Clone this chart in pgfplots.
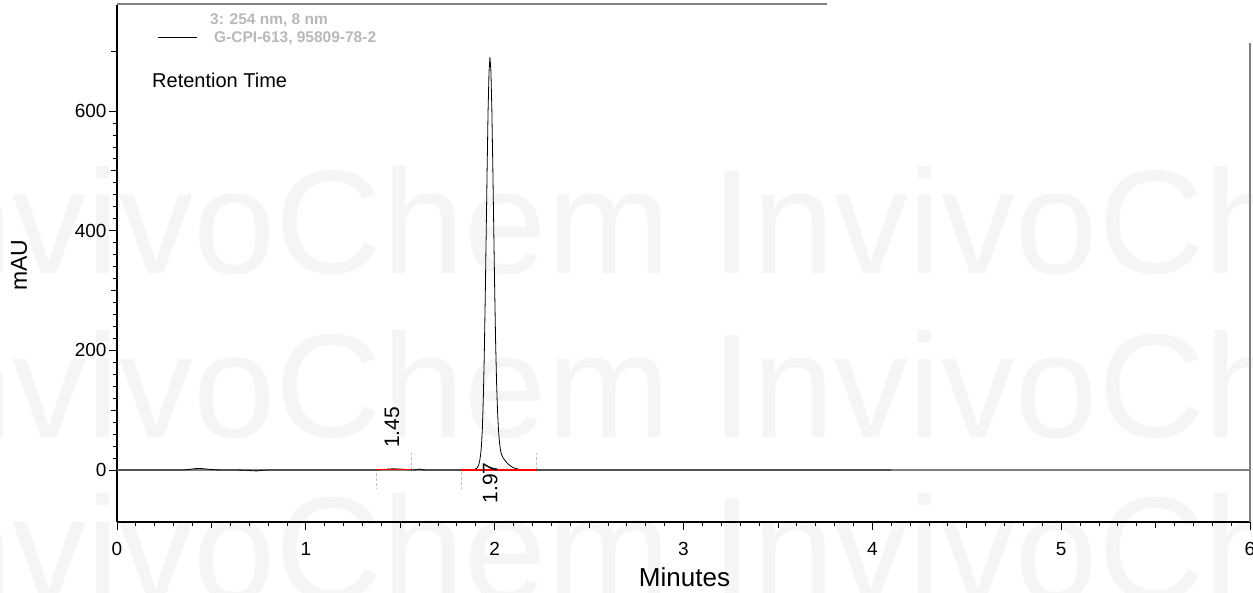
\documentclass[border=0pt]{standalone}
\usepackage{fontspec}
\setmainfont{Liberation Sans}
\usepackage{pgfplots}
\pgfplotsset{compat=1.18}
\newcommand\tickfont{\fontsize{19}{21}\selectfont}
\begin{document}
\begin{tikzpicture}
% watermark
\foreach \yy in {248,84.3,-79} {
  \node[anchor=base west, inner sep=0pt, text=black!4, font=\fontsize{148}{150}\selectfont] at (-228pt,\yy pt) {InvivoChem InvivoChem};
}
\begin{axis}[
  at={(0pt,0pt)}, anchor=south west,
  scale only axis, width=1133pt, height=517pt,
  xmin=0, xmax=6, ymin=-86.9, ymax=777.2,
  axis lines*=left,
  axis line style={black, line width=1.2pt},
  tick align=outside,
  xtick={0,1,2,3,4,5,6}, ytick={0,200,400,600},
  minor x tick num=9, minor y tick num=9,
  major tick length=8pt, minor tick length=4pt,
  tick style={black, line width=0.8pt},
  extra x ticks={0.5,1.5,2.5,3.5,4.5,5.5}, extra x tick labels={},
  extra x tick style={major tick length=6pt},
  extra y ticks={100,300,500,700}, extra y tick labels={},
  extra y tick style={major tick length=6pt},
  xticklabel style={font=\tickfont, yshift=-9pt},
  yticklabel style={font=\tickfont, xshift=1pt},
  /pgf/number format/assume math mode=true,
]
% baseline
\addplot[black!50, line width=1.5pt] coordinates {(0,0) (6,0)};
% peak delimiters
\addplot[black!25, densely dashed, line width=0.7pt] coordinates {(1.372,-5) (1.372,-32)};
\addplot[black!25, densely dashed, line width=0.7pt] coordinates {(1.5596,0) (1.5596,28)};
\addplot[black!25, densely dashed, line width=0.7pt] coordinates {(1.822,-3) (1.822,-32)};
\addplot[black!25, densely dashed, line width=0.7pt] coordinates {(2.223,0) (2.223,28)};
% chromatogram
\addplot[black, line width=0.8pt] coordinates {
(0,0) (0.35,0) (0.38,0.8) (0.41,2.2) (0.44,2.5) (0.47,1.8) (0.50,0.8) (0.53,0.2)
(0.60,0) (0.68,-0.3) (0.71,-1.2) (0.74,-1.5) (0.77,-0.6) (0.80,0)
(1.38,0) (1.42,1.2) (1.46,2.0) (1.50,1.6) (1.54,0.6) (1.57,0)
(1.59,1.2) (1.605,1.5) (1.62,0.3) (1.64,0)
(1.87,0) (1.885,0.5) (1.895,1.2) (1.905,3) (1.91,5) (1.915,8) (1.92,14)
(1.925,24) (1.93,40) (1.935,70) (1.94,120) (1.945,192) (1.95,285)
(1.955,392) (1.96,500) (1.965,598) (1.97,664) (1.975,690) (1.98,668)
(1.985,605) (1.99,512) (1.995,408) (2.0,305) (2.005,215) (2.01,148)
(2.015,100) (2.02,68) (2.025,48) (2.03,35) (2.035,27) (2.045,20)
(2.055,16) (2.065,12) (2.075,9) (2.085,6.5) (2.095,4.5) (2.105,3.2)
(2.115,2.2) (2.125,1.4) (2.135,0.8) (2.155,0.3) (2.175,0) (4.1,0)
};
% integration baselines
\addplot[red, line width=1.4pt] coordinates {(1.372,0.4) (1.56,0.4)};
\addplot[red, line width=1.4pt] coordinates {(1.822,0) (2.223,0)};
\node[rotate=90, font=\fontsize{21}{22}\selectfont] at (axis cs:1.457,71) {1.45};
\node[rotate=90, font=\fontsize{21}{22}\selectfont] at (axis cs:1.976,-21.7) {1.97};
\end{axis}
% partial frame
\draw[black!50, line width=2pt] (0pt,517.5pt) -- (710pt,517.5pt);
\draw[black!50, line width=2pt] (1133pt,0pt) -- (1133pt,479pt);
% legend and labels
\draw[black, line width=0.8pt] (41pt,484.3pt) -- (80pt,484.3pt);
\node[anchor=base west, inner sep=0pt, text=black!28, font=\fontsize{15.5}{17}\selectfont\bfseries] at (93pt,497pt) {3: 254 nm, 8 nm};
\node[anchor=base west, inner sep=0pt, text=black!28, font=\fontsize{15.5}{17}\selectfont\bfseries] at (97pt,479.3pt) {G-CPI-613, 95809-78-2};
\node[anchor=base west, inner sep=0pt, font=\fontsize{20}{22}\selectfont] at (35pt,434.7pt) {Retention Time};
\node[rotate=90, inner sep=0pt, font=\fontsize{23}{25}\selectfont] at (-98pt,257pt) {mAU};
\node[anchor=base, inner sep=0pt, font=\fontsize{26}{28}\selectfont] at (567.5pt,-64.7pt) {Minutes};
\pgfresetboundingbox
\path[use as bounding box] (-117pt,-71pt) rectangle (1136pt,522pt);
\end{tikzpicture}
\end{document}
